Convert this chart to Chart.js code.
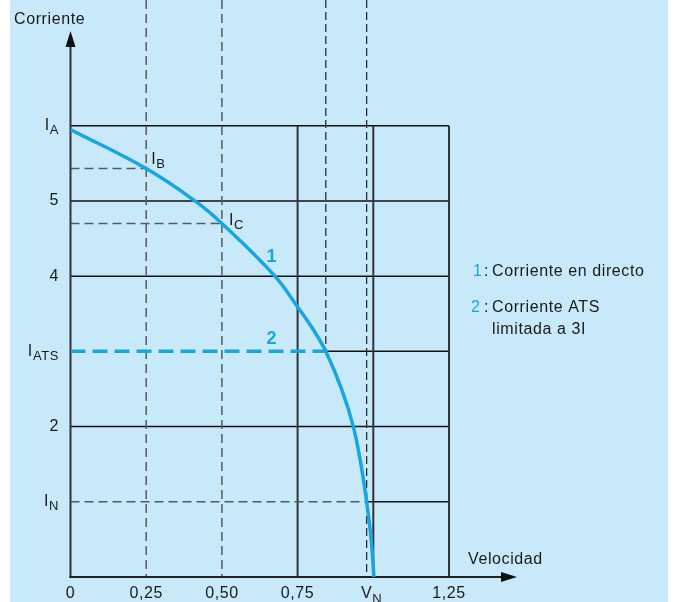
<!DOCTYPE html>
<html>
<head>
<meta charset="utf-8">
<script src="https://cdn.jsdelivr.net/npm/chart.js@4.4.0/dist/chart.umd.min.js"></script>
<style>
body { margin: 0; background: #fff; }
</style>
</head>
<body>
<canvas id="chart" width="675" height="602"></canvas>
<script>
// curva 1 : corriente en directo
var speed   = [0, 0.25, 0.411, 0.5, 0.675, 0.75, 0.80, 0.843, 0.895, 0.934, 0.959, 0.978, 0.993, 1.002];
var current = [5.95, 5.43, 5.0, 4.7, 4.0, 3.59, 3.3, 3.0, 2.5, 2.0, 1.5, 1.0, 0.5, 0];
// curva 2 : corriente ATS limitada a 3I
var atsSpeed   = [0, 0.843];
var atsCurrent = [3, 3];

var I_A = 6, I_B = 5.43, I_C = 4.7, I_ATS = 3, I_N = 1;
var V_ATS = 0.843, V_N = 0.978;

var xTicks  = [0, 0.25, 0.5, 0.75, V_N, 1.25];
var xLabels = [['0', ''], ['0,25', ''], ['0,50', ''], ['0,75', ''], ['V', 'N'], ['1,25', '']];
var yTicks  = [I_A, 5, 4, I_ATS, 2, I_N];
var yLabels = [['I', 'A'], ['5', ''], ['4', ''], ['I', 'ATS'], ['2', ''], ['I', 'N']];
var gridX = [0.75, 1, 1.25];
var gridY = [2, 4, 5, 6];

var BLUE = '#17a6e0';
var TXT = '#1a1a1a';
var FONT = '"Liberation Sans", Arial, sans-serif';

function seg(ctx, x1, y1, x2, y2, color, width, dash) {
	ctx.save();
	ctx.strokeStyle = color;
	ctx.lineWidth = width;
	ctx.setLineDash(dash || []);
	ctx.beginPath();
	ctx.moveTo(x1, y1);
	ctx.lineTo(x2, y2);
	ctx.stroke();
	ctx.restore();
}

function label(ctx, main, sub, x, y, align, size, color) {
	ctx.save();
	ctx.letterSpacing = '0.6px';
	ctx.fillStyle = color || TXT;
	ctx.textAlign = 'left';
	ctx.textBaseline = 'middle';
	ctx.font = size + 'px ' + FONT;
	var wm = ctx.measureText(main).width;
	ctx.font = (size - 3) + 'px ' + FONT;
	var ws = sub ? ctx.measureText(sub).width : 0;
	var x0 = x;
	if (align === 'right') x0 = x - wm - ws;
	if (align === 'center') x0 = x - wm / 2;
	ctx.font = size + 'px ' + FONT;
	ctx.fillText(main, x0, y);
	if (sub) {
		ctx.font = (size - 3) + 'px ' + FONT;
		ctx.fillText(sub, x0 + wm, y + 5);
	}
	ctx.restore();
}

var background = {
	id: 'background',
	beforeDraw: function(chart) {
		var ctx = chart.ctx;
		ctx.save();
		ctx.fillStyle = '#fff';
		ctx.fillRect(0, 0, chart.width, chart.height);
		ctx.fillStyle = '#c7e9f9';
		ctx.fillRect(10, 0, 658, chart.height);
		ctx.restore();
	}
};

var guides = {
	id: 'guides',
	beforeDatasetsDraw: function(chart) {
		var ctx = chart.ctx;
		var xs = chart.scales.x, ys = chart.scales.y;
		var px = function(v) { return xs.getPixelForValue(v); };
		var py = function(v) { return ys.getPixelForValue(v); };

		gridY.forEach(function(v) { seg(ctx, px(0), py(v), px(1.25), py(v), '#111', 1.5); });
		seg(ctx, px(V_ATS), py(I_ATS), px(1.25), py(I_ATS), '#111', 1.5);
		seg(ctx, px(V_N), py(I_N), px(1.25), py(I_N), '#111', 1.5);
		gridX.forEach(function(v) { seg(ctx, px(v), py(0), px(v), py(I_A), '#333', 2); });

		// lineas de referencia
		[0.25, 0.5].forEach(function(v) { seg(ctx, px(v), 0, px(v), py(0), '#555b60', 1.5, [9, 5]); });
		seg(ctx, px(V_ATS), 0, px(V_ATS), py(I_ATS), '#2a2f33', 1.3, [8, 4]);
		seg(ctx, px(V_N), 0, px(V_N), py(0), '#2a2f33', 1.3, [8, 4]);
		seg(ctx, px(0), py(I_B), px(0.25), py(I_B), '#555b60', 1.5, [9, 5]);
		seg(ctx, px(0), py(I_C), px(0.5), py(I_C), '#555b60', 1.5, [9, 5]);
		seg(ctx, px(0), py(I_N), px(V_N), py(I_N), '#555b60', 1.5, [9, 5]);

		// ejes con flechas
		var x0 = px(0), y0 = py(0);
		seg(ctx, x0, y0 + 1, x0, 45, '#333', 2);
		seg(ctx, x0 - 1, y0, 503, y0, '#222', 2);
		ctx.save();
		ctx.fillStyle = '#111';
		ctx.beginPath();
		ctx.moveTo(x0, 31); ctx.lineTo(x0 - 5, 47); ctx.lineTo(x0 + 5, 47);
		ctx.closePath(); ctx.fill();
		ctx.beginPath();
		ctx.moveTo(517, y0); ctx.lineTo(501, y0 - 5); ctx.lineTo(501, y0 + 5);
		ctx.closePath(); ctx.fill();
		ctx.restore();
	},
	afterDraw: function(chart) {
		var ctx = chart.ctx;
		var xs = chart.scales.x, ys = chart.scales.y;
		var px = function(v) { return xs.getPixelForValue(v); };
		var py = function(v) { return ys.getPixelForValue(v); };

		for (var i = 0; i < yTicks.length; i++) {
			label(ctx, yLabels[i][0], yLabels[i][1], 59, py(yTicks[i]), 'right', 16);
		}
		for (var j = 0; j < xTicks.length; j++) {
			label(ctx, xLabels[j][0], xLabels[j][1], px(xTicks[j]), 594, 'center', 16);
		}

		label(ctx, 'Corriente', '', 14, 20, 'left', 16);
		label(ctx, 'Velocidad', '', 468, 560, 'left', 16);

		label(ctx, 'I', 'B', px(0.25) + 5, py(I_B) - 9, 'left', 16);
		label(ctx, 'I', 'C', px(0.5) + 7, py(I_C) - 3, 'left', 16);

		ctx.save();
		ctx.fillStyle = BLUE;
		ctx.font = 'bold 18px ' + FONT;
		ctx.textAlign = 'center';
		ctx.textBaseline = 'middle';
		ctx.fillText('1', px(0.664), py(4.26));
		ctx.fillText('2', px(0.664), py(3.16));
		ctx.restore();

		// leyenda
		label(ctx, '1', '', 473, 272, 'left', 16, BLUE);
		label(ctx, ':', '', 484, 272, 'left', 16);
		label(ctx, 'Corriente en directo', '', 492, 272, 'left', 16);
		label(ctx, '2', '', 471, 308, 'left', 16, BLUE);
		label(ctx, ':', '', 484, 308, 'left', 16);
		label(ctx, 'Corriente ATS', '', 492, 308, 'left', 16);
		label(ctx, 'limitada a 3I', '', 492, 330, 'left', 16);
	}
};

var ctx = document.getElementById('chart');

var chart = new Chart(ctx, {
	type: 'scatter',
	data: {
		datasets: [
			{
				label: 'Corriente en directo',
				data: speed.map(function(s, i) { return { x: s, y: current[i] }; }),
				showLine: true,
				borderColor: BLUE,
				borderWidth: 3.5,
				pointRadius: 0,
				tension: 0.4,
				fill: false
			},
			{
				label: 'Corriente ATS limitada a 3I',
				data: atsSpeed.map(function(s, i) { return { x: s, y: atsCurrent[i] }; }),
				showLine: true,
				borderColor: BLUE,
				borderWidth: 3.5,
				borderDash: [15, 7],
				pointRadius: 0,
				fill: false
			}
		]
	},
	options: {
		responsive: false,
		animation: false,
		layout: { padding: { left: 70.5, top: 125.7, right: 226, bottom: 25 } },
		scales: {
			x: { type: 'linear', min: 0, max: 1.25, display: false },
			y: { type: 'linear', min: 0, max: 6, display: false }
		},
		plugins: {
			legend: { display: false },
			tooltip: { enabled: false }
		}
	},
	plugins: [background, guides]
});
</script>
</body>
</html>
